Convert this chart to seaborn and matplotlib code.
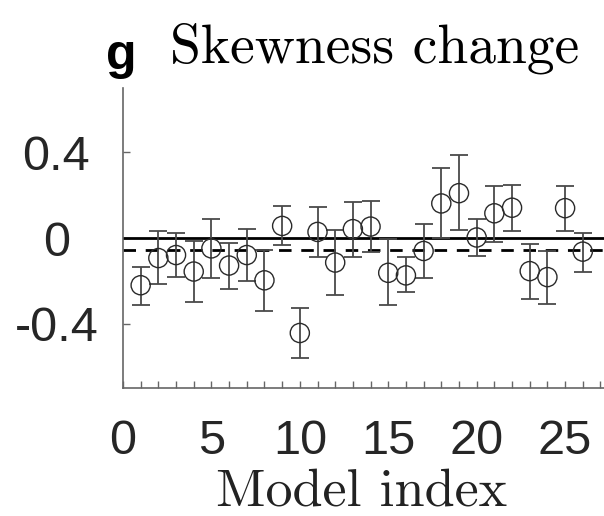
import numpy as np
import pandas as pd
import matplotlib
matplotlib.use("Agg")
import matplotlib.pyplot as plt
import seaborn as sns

# Skewness change per model, with lower/upper ends of the error bars
model_index = list(range(1, 27))
skew_change = [-0.220, -0.093, -0.079, -0.156, -0.048, -0.128, -0.079, -0.197,
               0.057, -0.443, 0.029, -0.114, 0.042, 0.054, -0.162, -0.174,
               -0.060, 0.162, 0.210, 0.003, 0.116, 0.142, -0.154, -0.182,
               0.140, -0.063]
err_low = [-0.313, -0.213, -0.182, -0.300, -0.188, -0.236, -0.200, -0.338,
           -0.034, -0.562, -0.087, -0.265, -0.088, -0.063, -0.313, -0.253,
           -0.188, 0.002, 0.039, -0.082, -0.017, 0.031, -0.284, -0.307,
           0.032, -0.159]
err_high = [-0.136, 0.031, 0.023, -0.012, 0.089, -0.023, 0.043, -0.056,
            0.148, -0.326, 0.144, 0.037, 0.168, 0.173, -0.005, -0.088,
            0.065, 0.326, 0.388, 0.089, 0.242, 0.250, -0.029, -0.059,
            0.242, 0.023]
mean_change = -0.054

y_ticks = [-0.4, 0, 0.4]
y_tick_labels = ["-0.4", "0", "0.4"]
x_label_ticks = [0, 5, 10, 15, 20, 25]

df = pd.DataFrame({"model": model_index, "change": skew_change,
                   "low": err_low, "high": err_high})

sns.set_style("ticks")
plt.rcParams["font.family"] = ["Liberation Sans", "DejaVu Sans"]

fig = plt.figure(figsize=(6.04, 5.16), dpi=100)
ax = fig.add_axes([0.2036, 0.248, 0.7964, 0.581])

# reference lines: zero and the mean across models
ax.axhline(0, color="black", lw=2.0, zorder=1)
ax.axhline(mean_change, color="black", lw=2.0, ls=(0, (4.5, 3.5)), zorder=1)

yerr = np.vstack([df["change"] - df["low"], df["high"] - df["change"]])
ax.errorbar(df["model"], df["change"], yerr=yerr, fmt="none",
            ecolor="#4a4a4a", elinewidth=1.3, capsize=6.5, capthick=1.3,
            zorder=2)
sns.scatterplot(data=df, x="model", y="change", ax=ax, marker="o", s=190,
                facecolors="none", edgecolor="#2a2a2a", linewidth=1.0,
                zorder=3, legend=False)

ax.set_xlim(0, 27.2)
ax.set_ylim(-0.7, 0.7)
ax.set_xticks(list(range(0, 28)))
ax.set_xticklabels([str(i) if i in x_label_ticks else "" for i in range(0, 28)])
ax.set_yticks(y_ticks)
ax.set_yticklabels(y_tick_labels)
ax.set_xlabel("")
ax.set_ylabel("")

ax.tick_params(axis="both", direction="in", length=5, width=1.0,
               color="#666666", labelsize=35, labelcolor="#262626")
ax.tick_params(axis="x", pad=22)
ax.tick_params(axis="y", pad=48)
for lbl in ax.get_yticklabels():
    lbl.set_horizontalalignment("center")

sns.despine(ax=ax, top=True, right=True)
for side in ("left", "bottom"):
    ax.spines[side].set_color("#666666")
    ax.spines[side].set_linewidth(1.2)

fig.text(0.176, 0.866, "g", fontsize=36, fontweight="bold",
         family=["Liberation Sans"], ha="left", va="baseline", color="black")
fig.text(0.281, 0.878, "Skewness change", fontsize=40, family="cmr10",
         ha="left", va="baseline", color="black")
fig.text(0.5994, 0.021, "Model index", fontsize=39, family="cmr10",
         ha="center", va="baseline", color="#222222")

fig.savefig("out.png", dpi=100)
